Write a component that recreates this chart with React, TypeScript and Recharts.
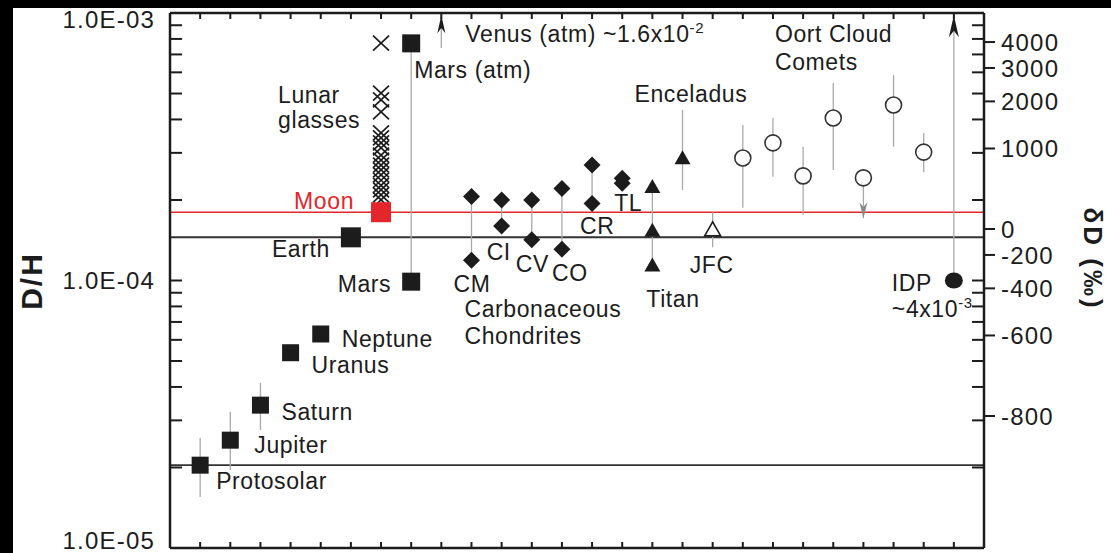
import React from 'react'
import { ScatterChart, Scatter, XAxis, YAxis, ReferenceLine, ErrorBar } from 'recharts'

const FONT = '"Liberation Sans", Arial, Helvetica, sans-serif'
const INK = '#1c1c1c'
const GREY = '#a9a9a9'
const RED = '#e3262b'

const DH_MIN = 1e-5
const DH_MAX = 1e-3
const ARROW_TIP = 9.8e-4
const VSMOW = 1.5576e-4

// x = slot along the (unlabelled) x axis
const gasNames = ['Protosolar', 'Jupiter', 'Saturn', 'Uranus', 'Neptune']
const gasX = [1, 2, 3, 4, 5]
const gasDH = [2.04e-5, 2.53e-5, 3.42e-5, 5.37e-5, 6.31e-5]
const gasLo = [1.55e-5, 1.96e-5, 2.76e-5, 5.37e-5, 6.31e-5]
const gasHi = [2.58e-5, 3.23e-5, 4.14e-5, 5.37e-5, 6.31e-5]

const earthX = 6
const earthDH = 1.45e-4
const moonX = 7
const moonDH = 1.8e-4
const lunarGlassDH = [
  7.72e-4, 5.02e-4, 4.73e-4, 4.27e-4, 3.56e-4, 3.41e-4, 3.27e-4, 3.13e-4, 2.94e-4,
  2.82e-4, 2.7e-4, 2.59e-4, 2.48e-4, 2.37e-4, 2.27e-4, 2.18e-4, 2.09e-4, 2.0e-4,
]
const marsX = 8
const marsDH = 9.9e-5
const marsAtmDH = 7.7e-4
const venusX = 9
const venusBaseDH = 7.4e-4 // real value ~1.6e-2, off scale

const chondriteNames = ['CM', 'CI', 'CV', 'CO', 'CR', 'TL']
const chondriteX = [10, 11, 12, 13, 14, 15]
const chondriteHi = [2.06e-4, 2.0e-4, 2.0e-4, 2.21e-4, 2.7e-4, 2.41e-4]
const chondriteLo = [1.19e-4, 1.6e-4, 1.42e-4, 1.31e-4, 1.94e-4, 2.31e-4]

const titanX = 16
const titanDH = [2.24e-4, 1.54e-4, 1.14e-4]
const enceladusX = 17
const enceladusDH = 2.87e-4
const enceladusRange = [2.18e-4, 4.34e-4]
const jfcX = 18
const jfcDH = 1.55e-4
const jfcRange = [1.33e-4, 1.8e-4]

const cometX = [19, 20, 21, 22, 23, 24, 25]
const cometDH = [2.87e-4, 3.27e-4, 2.46e-4, 4.05e-4, 2.42e-4, 4.53e-4, 3.02e-4]
const cometLo = [1.87e-4, 2.44e-4, 1.76e-4, 2.59e-4, 1.71e-4, 3.16e-4, 2.54e-4]
const cometHi = [3.81e-4, 4.05e-4, 3.16e-4, 5.47e-4, 2.42e-4, 5.86e-4, 3.56e-4]
const cometLimit = 4 // upper limit, arrow down

const idpX = 26
const idpDH = 1.0e-4 // real value ~4e-3, off scale

const dDTicks = [4000, 3000, 2000, 1000, 0, -200, -400, -600, -800]
const dDValues = dDTicks.map(d => VSMOW * (1 + d / 1000))
const logTicks = [1e-5, 1e-4]
  .flatMap(dec => [1, 2, 3, 4, 5, 6, 7, 8, 9].map(m => m * dec))
  .concat(DH_MAX)
const X_MAX = 27
const xTicks = Array.from({ length: 26 }, (_, i) => i + 1)

// frame geometry (plot box inside the 1111x553 picture)
const PLOT = { left: 170, top: 13, right: 984, bottom: 548 }

const withErr = (x: number, y: number, lo: number, hi: number) => ({ x, y, err: [y - lo, hi - y] })

const gasRows = gasX.map((x, i) => withErr(x, gasDH[i], gasLo[i], gasHi[i]))
const marsRows = [withErr(marsX, marsDH, marsDH, marsAtmDH), { x: marsX, y: marsAtmDH, err: [0, 0] }]
const glassRows = lunarGlassDH.map(y => ({ x: moonX, y }))
const chondriteRows = chondriteX.flatMap((x, i) => [
  withErr(x, chondriteHi[i], chondriteLo[i], chondriteHi[i]),
  { x, y: chondriteLo[i], err: [0, 0] },
])
const titanRows = [withErr(titanX, titanDH[0], titanDH[2], titanDH[0]), ...titanDH.slice(1).map(y => ({ x: titanX, y, err: [0, 0] }))]
const cometRows = cometX.map((x, i) => withErr(x, cometDH[i], cometLo[i], cometHi[i]))

// text annotations, anchored on a data point, offset in px
const LH = 27
const sup = (base: string, exp: string) => (
  <>
    {base}
    <tspan dy={-9} fontSize={15}>{exp}</tspan>
  </>
)
const notes: any[] = [
  { text: [gasNames[0]], x: gasX[0], y: gasDH[0], dx: 16, dy: 24 },
  { text: [gasNames[1]], x: gasX[1], y: gasDH[1], dx: 24, dy: 13 },
  { text: [gasNames[2]], x: gasX[2], y: gasDH[2], dx: 21, dy: 15 },
  { text: [gasNames[3]], x: gasX[3], y: gasDH[3], dx: 21, dy: 20 },
  { text: [gasNames[4]], x: gasX[4], y: gasDH[4], dx: 21, dy: 13 },
  { text: ['Earth'], x: earthX, y: earthDH, dx: -21, dy: 20, anchor: 'end' },
  { text: ['Moon'], x: moonX, y: moonDH, dx: -27, dy: -3, anchor: 'end', color: RED },
  { text: ['Lunar', 'glasses'], x: moonX, y: moonDH, dx: -103, dy: -109, lh: 25 },
  { text: ['Mars'], x: marsX, y: marsDH, dx: -20, dy: 10, anchor: 'end' },
  { text: ['Mars (atm)'], x: marsX, y: marsAtmDH, dx: 3, dy: 35 },
  { text: [sup('Venus (atm) ~1.6x10', '-2')], x: venusX, y: DH_MAX, dx: 24, dy: 29 },
  { text: [chondriteNames[0]], x: chondriteX[0], y: chondriteLo[0], dx: -18, dy: 32 },
  { text: [chondriteNames[1]], x: chondriteX[1], y: chondriteLo[1], dx: -15, dy: 34 },
  { text: [chondriteNames[2]], x: chondriteX[2], y: chondriteLo[2], dx: -16, dy: 32 },
  { text: [chondriteNames[3]], x: chondriteX[3], y: chondriteLo[3], dx: -10, dy: 32 },
  { text: [chondriteNames[4]], x: chondriteX[4], y: chondriteLo[4], dx: -12, dy: 30 },
  { text: [chondriteNames[5]], x: chondriteX[5], y: chondriteLo[5], dx: -8, dy: 28 },
  { text: ['Carbonaceous', 'Chondrites'], x: chondriteX[0], y: chondriteLo[0], dx: -7, dy: 57 },
  { text: ['Titan'], x: titanX, y: titanDH[2], dx: -6, dy: 42 },
  { text: ['Enceladus'], x: enceladusX, y: enceladusDH, dx: -48, dy: -56 },
  { text: ['JFC'], x: jfcX, y: jfcDH, dx: -23, dy: 43 },
  { text: ['Oort Cloud', 'Comets'], x: cometX[1], y: DH_MAX, dx: 2, dy: 29, lh: 28 },
  { text: ['IDP', sup('~4x10', '-3')], x: idpX, y: idpDH, dx: -62, dy: 10, lh: 26 },
]

const square = (s: number, fill: string) => (p: any) => (
  <rect x={p.cx - s / 2} y={p.cy - s / 2} width={s} height={s} fill={fill} />
)
const diamond = (r: number) => (p: any) => (
  <polygon points={`${p.cx},${p.cy - r} ${p.cx + r},${p.cy} ${p.cx},${p.cy + r} ${p.cx - r},${p.cy}`} fill={INK} />
)
const triangle = (w: number, h: number, open: boolean) => (p: any) => (
  <polygon
    points={`${p.cx},${p.cy - h * 0.55} ${p.cx + w / 2},${p.cy + h * 0.45} ${p.cx - w / 2},${p.cy + h * 0.45}`}
    fill={open ? '#fff' : INK}
    stroke={INK}
    strokeWidth={open ? 1.6 : 0}
  />
)
const cross = (w: number, h: number) => (p: any) => (
  <g stroke={INK} strokeWidth={1.7}>
    <line x1={p.cx - w / 2} y1={p.cy - h / 2} x2={p.cx + w / 2} y2={p.cy + h / 2} />
    <line x1={p.cx - w / 2} y1={p.cy + h / 2} x2={p.cx + w / 2} y2={p.cy - h / 2} />
  </g>
)
const ring = (r: number) => (p: any) => (
  <circle cx={p.cx} cy={p.cy} r={r} fill="#fff" stroke="#333" strokeWidth={1.6} />
)
const dot = (rx: number, ry: number) => (p: any) => <ellipse cx={p.cx} cy={p.cy} rx={rx} ry={ry} fill={INK} />
const arrowHead = (w: number, h: number, dir: 1 | -1, fill: string) => (p: any) => (
  <path
    d={`M${p.cx},${p.cy} L${p.cx + w / 2},${p.cy + dir * h} L${p.cx},${p.cy + dir * h * 0.7} L${p.cx - w / 2},${p.cy + dir * h} Z`}
    fill={fill}
  />
)
const nothing = () => <g />
const noteShape = (p: any) => {
  const n = p.payload
  return (
    <g>
      {n.text.map((t: any, i: number) => (
        <text
          key={i}
          x={p.cx + n.dx}
          y={p.cy + n.dy + i * (n.lh ?? LH)}
          textAnchor={n.anchor ?? 'start'}
          fontFamily={FONT}
          fontSize={23}
          letterSpacing={0.6}
          fill={n.color ?? INK}
        >
          {t}
        </text>
      ))}
    </g>
  )
}

const LeftTick = ({ x, y, payload }: any) => {
  const e = Math.log10(payload.value)
  const major = Math.abs(e - Math.round(e)) < 1e-9
  const ly = Math.min(Math.max(y, 19), 540)
  return (
    <g>
      <line x1={x} x2={x + 12} y1={y} y2={y} stroke={INK} strokeWidth={2} />
      {major && (
        <text x={x - 15} y={ly} dy="0.36em" textAnchor="end" fontFamily={FONT} fontSize={24} letterSpacing={1.2} fill={INK}>
          {`1.0E-0${-Math.round(e)}`}
        </text>
      )}
    </g>
  )
}

const RightTick = ({ x, y, payload }: any) => {
  const v = payload.value
  const i = dDValues.findIndex(d => Math.abs(d - v) / v < 1e-9)
  if (i < 0) return <line x1={x - 12} x2={x} y1={y} y2={y} stroke={INK} strokeWidth={2} />
  return (
    <g>
      <line x1={x} x2={x + 11} y1={y} y2={y} stroke={INK} strokeWidth={2} />
      <text x={x + 17} y={y} dy="0.36em" fontFamily={FONT} fontSize={24} letterSpacing={1.2} fill={INK}>
        {dDTicks[i]}
      </text>
    </g>
  )
}

const BottomTick = ({ x, y }: any) => <line x1={x} x2={x} y1={y} y2={y - 6} stroke={INK} strokeWidth={2} />

const axisLine = { stroke: INK, strokeWidth: 2.5 }
const bar = (color = GREY) => <ErrorBar dataKey="err" direction="y" width={0} stroke={color} strokeWidth={1.3} />

export default function App() {
  const common = { xAxisId: 'b', yAxisId: 'l', isAnimationActive: false }
  const topX = (k: number) => PLOT.left + (k / X_MAX) * (PLOT.right - PLOT.left)
  return (
    <div style={{ position: 'absolute', left: 0, top: 0, width: 1111, height: 553, background: '#000' }}>
      <div style={{ position: 'absolute', left: 13, top: 8, right: 0, bottom: 0, background: '#fff' }} />
      <div style={{ position: 'absolute', left: 0, top: 0 }}>
        <ScatterChart
          width={1111}
          height={553}
          margin={{ top: PLOT.top, right: 0, bottom: 0, left: 0 }}
        >
          <XAxis
            xAxisId="b" dataKey="x" type="number" domain={[0, X_MAX]} ticks={xTicks} interval={0}
            height={553 - PLOT.bottom} tickSize={0} tickMargin={0} tickLine={false} axisLine={axisLine} tick={<BottomTick />}
          />
          <YAxis
            yAxisId="l" dataKey="y" type="number" scale="log" domain={[DH_MIN, DH_MAX]} ticks={logTicks} interval={0}
            width={PLOT.left} tickSize={0} tickMargin={0} tickLine={false} axisLine={axisLine} tick={<LeftTick />}
          />
          <YAxis
            yAxisId="r" dataKey="y" orientation="right" type="number" scale="log" domain={[DH_MIN, DH_MAX]}
            ticks={[...logTicks, ...dDValues]} interval={0}
            width={1111 - PLOT.right} tickSize={0} tickMargin={0} tickLine={false} axisLine={axisLine} tick={<RightTick />}
          />

          <ReferenceLine xAxisId="b" yAxisId="l" y={gasDH[0]} stroke="#333" strokeWidth={1.6} />
          <ReferenceLine xAxisId="b" yAxisId="l" y={earthDH} stroke="#333" strokeWidth={2} />
          <ReferenceLine xAxisId="b" yAxisId="l" y={moonDH} stroke={RED} strokeWidth={1.6} />

          {/* invisible series so the right frame axis gets drawn */}
          <Scatter xAxisId="b" yAxisId="r" isAnimationActive={false} data={[{ x: earthX, y: earthDH }]} shape={nothing} />

          <Scatter {...common} data={gasRows} shape={square(17, INK)}>{bar()}</Scatter>
          <Scatter {...common} data={[{ x: earthX, y: earthDH }]} shape={square(20, INK)} />
          <Scatter {...common} data={marsRows} shape={square(18, INK)}>{bar()}</Scatter>
          <Scatter {...common} data={glassRows} shape={cross(16, 15)} />
          <Scatter {...common} data={[{ x: moonX, y: moonDH }]} shape={square(20, RED)} />
          <Scatter {...common} data={[withErr(venusX, ARROW_TIP, venusBaseDH, ARROW_TIP)]} shape={arrowHead(8, 18, 1, INK)}>{bar()}</Scatter>
          <Scatter {...common} data={chondriteRows} shape={diamond(8.5)}>{bar()}</Scatter>
          <Scatter {...common} data={titanRows} shape={triangle(16, 14, false)}>{bar()}</Scatter>
          <Scatter {...common} data={[withErr(enceladusX, enceladusDH, enceladusRange[0], enceladusRange[1])]} shape={triangle(16, 14, false)}>{bar()}</Scatter>
          <Scatter {...common} data={[withErr(jfcX, jfcDH, jfcRange[0], jfcRange[1])]} shape={triangle(16, 14, true)}>{bar()}</Scatter>
          <Scatter {...common} data={cometRows} shape={ring(8)}>{bar()}</Scatter>
          <Scatter {...common} data={[{ x: cometX[cometLimit], y: cometLo[cometLimit] }]} shape={arrowHead(8, 16, -1, '#8a8a8a')} />
          <Scatter {...common} data={[withErr(idpX, idpDH, idpDH, ARROW_TIP)]} shape={dot(9, 8)}>{bar()}</Scatter>
          <Scatter {...common} data={[{ x: idpX, y: ARROW_TIP }]} shape={arrowHead(10, 22, 1, INK)} />
          <Scatter {...common} data={notes} shape={noteShape} />
        </ScatterChart>
      </div>
      <svg width={1111} height={553} style={{ position: 'absolute', left: 0, top: 0, pointerEvents: 'none' }}>
        {/* top frame edge with inward ticks */}
        <line x1={PLOT.left} x2={PLOT.right} y1={PLOT.top} y2={PLOT.top} stroke={INK} strokeWidth={2.5} />
        {xTicks.map(k => (
          <line key={k} x1={topX(k)} x2={topX(k)} y1={PLOT.top} y2={PLOT.top + 6} stroke={INK} strokeWidth={2} />
        ))}
        <text transform="translate(42,281) rotate(-90)" textAnchor="middle" fontFamily={FONT} fontWeight="bold" fontSize={30} letterSpacing={2} fill={INK}>
          D/H
        </text>
        <text transform="translate(1084,259) rotate(90)" textAnchor="middle" fontFamily={FONT} fontWeight="bold" fontSize={26} letterSpacing={3} fill={INK}>
          δD (‰)
        </text>
      </svg>
    </div>
  )
}
